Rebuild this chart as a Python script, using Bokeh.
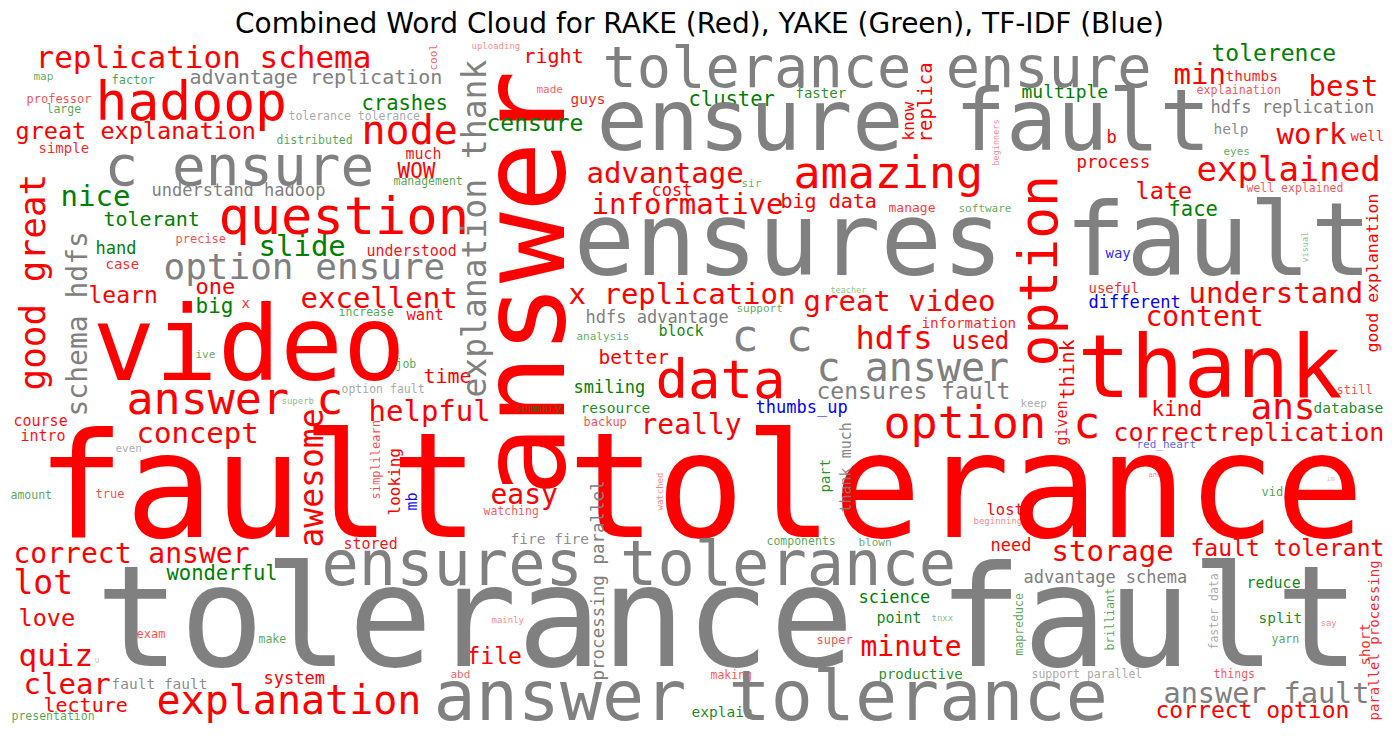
from math import pi
from bokeh.plotting import figure
from bokeh.models import ColumnDataSource, Range1d
from bokeh.core.properties import value
from bokeh.embed import file_html
from bokeh.resources import INLINE

# word, font size (weight), x, y, vertical  -- x/y in picture pixels
# horizontal words: x = left edge, y = baseline; vertical words: x = baseline, y = start (bottom)
rake_words = [
    ("fault tolerance", 147, 36, 535, 0), ("answer", 118, 561, 496, 1),
    ("video", 104, 92, 378, 0), ("thank", 88, 1077, 395, 0),
    ("hadoop", 53, 95, 118, 0), ("question", 52, 218, 233, 0),
    ("option", 53, 1055, 366, 1), ("data", 54, 655, 397, 0),
    ("amazing", 45, 793, 187, 0), ("answer c", 45, 126, 413, 0),
    ("option c", 45, 883, 437, 0), ("node", 40, 361, 143, 0),
    ("explanation", 40, 156, 713, 0), ("good great", 36, 44, 390, 1),
    ("ans", 36, 1250, 418, 0), ("explained", 34, 1196, 180, 0),
    ("lot", 33, 13, 593, 0), ("awesome", 33, 322, 547, 1),
    ("hdfs", 32, 855, 348, 0), ("replication schema", 31, 35, 67, 0),
    ("quiz", 31, 18, 665, 0), ("excellent", 29, 300, 307, 0),
    ("helpful", 29, 368, 420, 0), ("concept", 29, 136, 442, 0),
    ("x replication", 29, 568, 303, 0), ("great video", 29, 803, 310, 0),
    ("advantage", 29, 586, 182, 0), ("informative", 29, 591, 213, 0),
    ("understand", 29, 1188, 302, 0), ("min", 29, 1173, 83, 0),
    ("best", 29, 1308, 95, 0), ("work", 29, 1276, 143, 0),
    ("clear", 29, 23, 693, 0), ("really", 28, 640, 433, 0),
    ("easy", 28, 490, 503, 0), ("correct answer", 28, 13, 562, 0),
    ("minute", 28, 860, 655, 0), ("content", 28, 1145, 325, 0),
    ("storage", 29, 1051, 560, 0), ("correctreplication", 25, 1113, 440, 0),
    ("used", 24, 951, 348, 0), ("great explanation", 23.5, 15, 138, 0),
    ("learn", 23, 88, 302, 0), ("love", 23.5, 18, 625, 0),
    ("late", 23.5, 1135, 198, 0), ("file", 23, 466, 663, 0),
    ("fault tolerant", 23, 1190, 555, 0), ("correct option", 23, 1155, 717, 0),
    ("one", 22, 195, 293, 0), ("WOW", 21, 397, 177, 0),
    ("kind", 21, 1151, 415, 0), ("right", 20, 523, 62, 0),
    ("time", 20, 423, 382, 0), ("lecture", 20, 43, 711, 0),
    ("big data", 20, 780, 207, 0), ("think", 20, 1073, 399, 1),
    ("better", 19.5, 598, 363, 0), ("replica", 19, 931, 142, 1),
    ("process", 17.5, 1076, 167, 0), ("cost", 17, 651, 195, 0),
    ("system", 17, 263, 683, 0), ("need", 17, 990, 550, 0),
    ("b", 17, 1106, 142, 0), ("looking", 16, 399, 515, 1),
    ("know", 16, 913, 140, 1), ("good explanation", 16.5, 1377, 352, 1),
    ("understood", 15, 366, 255, 0), ("much", 15, 405, 158, 0),
    ("want", 15.5, 406, 320, 0), ("stored", 15, 343, 548, 0),
    ("course", 15, 13, 425, 0), ("intro", 15, 20, 440, 0),
    ("lost", 15.5, 986, 515, 0), ("given", 15, 1066, 445, 1),
    ("guys", 14.5, 570, 103, 0), ("thumbs", 14.5, 1225, 80, 0),
    ("information", 14.3, 921, 327, 0), ("useful", 14, 1088, 292, 0),
    ("simple", 14, 38, 152, 0), ("case", 14, 105, 268, 0),
    ("well", 14, 1350, 140, 0), ("x", 14, 241, 307, 0),
    ("short", 14, 1369, 665, 1), ("parallel processing", 14, 1378, 720, 1),
    ("manage", 13, 888, 211, 0), ("professor", 12, 26, 102, 0),
    ("precise", 12, 175, 242, 0), ("exam", 12, 136, 637, 0),
    ("super", 12, 816, 643, 0), ("backup", 12, 583, 425, 0),
    ("still", 12, 1336, 393, 0), ("true", 12, 95, 497, 0),
    ("simplilearn", 12, 379, 499, 1), ("explaination", 11.7, 1196, 93, 0),
    ("watching", 11.5, 483, 514, 0), ("making", 11.5, 710, 678, 0),
    ("things", 11.5, 1213, 677, 0), ("well explained", 11.5, 1246, 191, 0),
    ("made", 11, 536, 93, 0), ("abd", 11, 450, 678, 0),
    ("cool", 11, 437, 70, 1), ("mainly", 9, 491, 622, 0),
    ("uploading", 9, 471, 48, 0), ("beginning", 9, 973, 523, 0),
    ("beginners", 8.5, 998, 165, 1), ("watched", 9, 662, 510, 1),
    ("say", 9, 1320, 625, 0), ("ans", 7, 1148, 477, 0),
]

yake_words = [
    ("nice", 29, 60, 205, 0), ("slide", 29, 258, 255, 0),
    ("censure", 23, 486, 130, 0), ("tolerence", 23, 1211, 60, 0),
    ("crashes", 20.5, 361, 109, 0), ("cluster", 20.5, 688, 105, 0),
    ("wonderful", 20.5, 166, 579, 0), ("face", 20.5, 1168, 215, 0),
    ("tolerant", 20, 103, 225, 0), ("big", 21, 195, 312, 0),
    ("multiple", 18, 1021, 97, 0), ("hand", 17, 95, 253, 0),
    ("smiling", 17, 573, 392, 0), ("science", 17, 858, 602, 0),
    ("block", 15, 658, 335, 0), ("reduce", 15, 1246, 587, 0),
    ("point", 15, 876, 622, 0), ("resource", 14.5, 580, 412, 0),
    ("database", 14.5, 1313, 412, 0), ("explain", 14.5, 691, 716, 0),
    ("split", 14.5, 1258, 622, 0), ("productive", 14, 878, 678, 0),
    ("faster", 14, 795, 97, 0), ("part", 14, 829, 492, 1),
    ("factor", 12, 111, 83, 0), ("vid", 12, 1261, 495, 0),
    ("map", 11, 33, 80, 0), ("large", 11.5, 46, 112, 0),
    ("distributed", 11.5, 276, 143, 0), ("management", 11.5, 393, 184, 0),
    ("increase", 11.5, 338, 315, 0), ("amount", 11.5, 10, 498, 0),
    ("make", 11.5, 258, 642, 0), ("presentation", 11.5, 11, 719, 0),
    ("components", 11.5, 766, 544, 0), ("mapreduce", 11.5, 1022, 655, 1),
    ("brilliant", 11.5, 1113, 650, 1), ("yarn", 11.5, 1271, 642, 0),
    ("ive", 11, 195, 358, 0), ("job", 11.5, 395, 367, 0),
    ("support", 11, 736, 312, 0), ("analysis", 11, 576, 340, 0),
    ("summary", 11, 515, 412, 0), ("software", 11, 958, 212, 0),
    ("sir", 11, 741, 187, 0), ("eyes", 11, 1223, 155, 0),
    ("blown", 11, 858, 546, 0), ("superb", 9, 281, 403, 0),
    ("teacher", 8.5, 830, 292, 0), ("tnxx", 9, 931, 620, 0),
    ("visual", 8.5, 1307, 262, 1),
]

tfidf_words = [
    ("thumbs_up", 17, 755, 412, 0), ("different", 17, 1088, 307, 0),
    ("way", 14, 1105, 257, 0), ("mb", 15, 416, 510, 1),
    ("red_heart", 11, 1136, 448, 0),
]

common_words = [
    ("tolerance fault", 140, 95, 663, 0), ("ensures fault", 102, 573, 273, 0),
    ("ensure fault", 85, 596, 148, 0), ("answer tolerance", 70, 433, 719, 0),
    ("ensures tolerance", 62, 321, 583, 0), ("c ensure", 56, 104, 183, 0),
    ("tolerance ensure", 57, 602, 85, 0), ("c c", 45, 731, 350, 0),
    ("c answer", 40, 816, 380, 0), ("option ensure", 36, 163, 278, 0),
    ("explanation thank", 33, 485, 397, 1), ("schema hdfs", 28, 86, 416, 1),
    ("answer fault", 28.5, 1163, 702, 0), ("censures fault", 23, 816, 398, 0),
    ("advantage replication", 20, 189, 83, 0), ("understand hadoop", 17, 151, 195, 0),
    ("hdfs advantage", 17, 585, 322, 0), ("hdfs replication", 17, 1210, 112, 0),
    ("advantage schema", 17, 1023, 582, 0), ("processing parallel", 17.5, 603, 680, 1),
    ("thank much", 15, 850, 512, 1), ("fault fault", 14.5, 111, 688, 0),
    ("fire fire", 14.5, 510, 543, 0), ("help", 14.5, 1213, 133, 0),
    ("tolerance tolerance", 11.5, 288, 119, 0), ("option fault", 11.5, 341, 392, 0),
    ("faster data", 11.5, 1217, 649, 1), ("support parallel", 11.5, 1031, 677, 0),
    ("keep", 11, 1020, 407, 0), ("even", 11, 115, 452, 0),
    ("u", 8, 94, 663, 0), ("im", 7, 1326, 481, 0),
]

groups = [(rake_words, "#ff0000"), (yake_words, "#008000"),
          (tfidf_words, "#0000ff"), (common_words, "#808080")]

# the alphabetic anchor lands about this fraction of an em below the real baseline
DROP = 0.33

W, H = 1383, 724
p = figure(width=W, height=H, x_range=Range1d(0, W), y_range=Range1d(H, 0),
           output_backend="svg", toolbar_location=None, min_border=0)
p.axis.visible = False
p.grid.visible = False
p.outline_line_color = None
p.background_fill_color = "white"

for words, color in groups:
    src = ColumnDataSource(dict(
        text=[w[0] for w in words],
        size=["%.1fpx" % w[1] for w in words],
        x=[w[2] - DROP * w[1] if w[4] else w[2] for w in words],
        y=[w[3] if w[4] else w[3] - DROP * w[1] for w in words],
        angle=[pi / 2 if w[4] else 0 for w in words],
        alpha=[min(1.0, max(0.5, 0.45 + (w[1] - 8) * 0.07)) for w in words],
    ))
    p.text(x="x", y="y", text="text", angle="angle", source=src,
           text_font=value("DejaVu Sans Mono"), text_font_size="size",
           text_color=color, text_alpha="alpha",
           text_align="left", text_baseline="alphabetic")

title_size = 28
p.text(x=[699], y=[22.5],
       text=["Combined Word Cloud for RAKE (Red), YAKE (Green), TF-IDF (Blue)"],
       text_font=value("DejaVu Sans"), text_font_size="%dpx" % title_size,
       text_color="black", text_align="center", text_baseline="alphabetic")

open("out.html", "w").write(file_html(p, INLINE))
